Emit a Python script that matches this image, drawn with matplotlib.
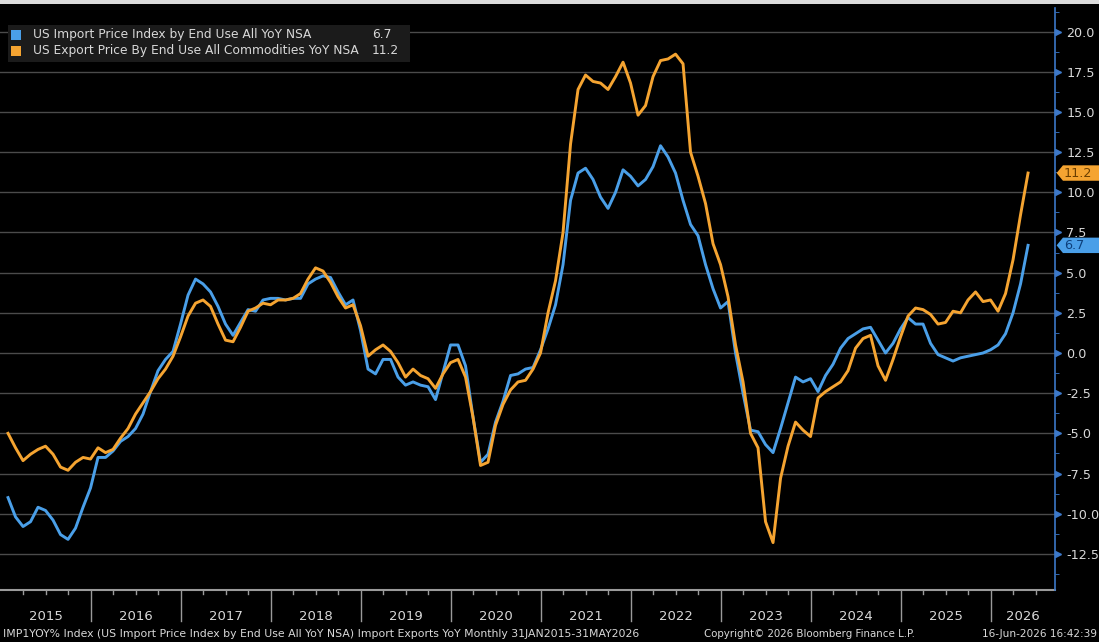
import matplotlib
matplotlib.use('Agg')
import matplotlib.pyplot as plt
import matplotlib.transforms as mtransforms
from matplotlib.patches import Polygon, Rectangle
import numpy as np

# monthly YoY values, Jan 2015 .. May 2026 (one row per year)
import_yoy = [
    -9.0, -10.2, -10.8, -10.5, -9.6, -9.8, -10.4, -11.3, -11.6, -10.9, -9.6, -8.4,   # 2015
    -6.5, -6.5, -6.1, -5.5, -5.2, -4.7, -3.8, -2.4, -1.1, -0.4, 0.1, 1.8,            # 2016
    3.6, 4.6, 4.3, 3.8, 2.9, 1.8, 1.1, 1.9, 2.7, 2.6, 3.3, 3.4,                      # 2017
    3.4, 3.3, 3.4, 3.4, 4.3, 4.6, 4.8, 4.7, 3.8, 3.0, 3.3, 1.4,                      # 2018
    -1.0, -1.3, -0.4, -0.4, -1.5, -2.0, -1.8, -2.0, -2.1, -2.9, -1.2, 0.5,           # 2019
    0.5, -0.8, -4.0, -6.8, -6.3, -4.3, -3.0, -1.4, -1.3, -1.0, -0.9, 0.2,            # 2020
    1.5, 3.0, 5.5, 9.5, 11.2, 11.5, 10.8, 9.7, 9.0, 10.0, 11.4, 11.0,                # 2021
    10.4, 10.8, 11.6, 12.9, 12.2, 11.2, 9.5, 8.0, 7.3, 5.5, 4.0, 2.8,                # 2022
    3.2, 0.0, -2.5, -4.8, -4.9, -5.7, -6.2, -4.7, -3.1, -1.5, -1.8, -1.6,            # 2023
    -2.4, -1.4, -0.7, 0.3, 0.9, 1.2, 1.5, 1.6, 0.8, 0.0, 0.6, 1.5,                   # 2024
    2.2, 1.8, 1.8, 0.6, -0.1, -0.3, -0.5, -0.3, -0.2, -0.1, 0.0, 0.2,                # 2025
    0.5, 1.2, 2.5, 4.3, 6.7,                                                         # 2026
]
export_yoy = [
    -5.0, -5.9, -6.7, -6.3, -6.0, -5.8, -6.3, -7.1, -7.3, -6.8, -6.5, -6.6,          # 2015
    -5.9, -6.2, -6.0, -5.3, -4.7, -3.8, -3.1, -2.4, -1.6, -1.0, -0.2, 1.0,           # 2016
    2.3, 3.1, 3.3, 2.9, 1.8, 0.8, 0.7, 1.6, 2.6, 2.8, 3.1, 3.0,                      # 2017
    3.3, 3.3, 3.4, 3.7, 4.6, 5.3, 5.1, 4.4, 3.5, 2.8, 3.0, 1.7,                      # 2018
    -0.2, 0.2, 0.5, 0.1, -0.6, -1.5, -1.0, -1.4, -1.6, -2.2, -1.3, -0.6,             # 2019
    -0.4, -1.5, -4.0, -7.0, -6.8, -4.5, -3.2, -2.3, -1.8, -1.7, -1.0, 0.0,           # 2020
    2.5, 4.5, 7.5, 13.0, 16.4, 17.3, 16.9, 16.8, 16.4, 17.2, 18.1, 16.8,             # 2021
    14.8, 15.4, 17.2, 18.2, 18.3, 18.6, 18.0, 12.5, 11.0, 9.3, 6.8, 5.5,             # 2022
    3.5, 0.5, -1.8, -5.0, -5.9, -10.5, -11.8, -7.8, -5.8, -4.3, -4.8, -5.2,          # 2023
    -2.8, -2.4, -2.1, -1.8, -1.1, 0.3, 0.9, 1.1, -0.8, -1.7, -0.4, 1.0,              # 2024
    2.3, 2.8, 2.7, 2.4, 1.8, 1.9, 2.6, 2.5, 3.3, 3.8, 3.2, 3.3,                      # 2025
    2.6, 3.7, 5.8, 8.6, 11.2,                                                        # 2026
]
years = list(range(2015, 2027))
import_label = 'US Import Price Index by End Use All YoY NSA'
export_label = 'US Export Price By End Use All Commodities YoY NSA'

BLUE = '#4a9fe8'
ORANGE = '#f5a431'
GRID = '#4b4b4b'
TXT = '#d8d8d8'
AXBLUE = '#3c78c8'

fig = plt.figure(figsize=(10.99, 6.42), dpi=100, facecolor='black')
ax = fig.add_axes([0.0, 0.081, 0.96, 0.9065])
ax.set_facecolor('black')

months = np.arange(len(import_yoy))
ax.plot(months, import_yoy, color=BLUE, lw=2.1, zorder=3)
ax.plot(months, export_yoy, color=ORANGE, lw=2.1, zorder=3)

ax.set_xlim(-1.07, 139.6)
ax.set_ylim(-14.75, 21.47)

yt = np.arange(-12.5, 20.01, 2.5)
for v in yt:
    ax.axhline(v, color=GRID, lw=1.0, zorder=1)

# right axis styling
for s in ['top', 'left', 'bottom']:
    ax.spines[s].set_visible(False)
ax.spines['right'].set_color(AXBLUE)
ax.spines['right'].set_linewidth(1.2)
ax.yaxis.tick_right()
ax.set_yticks(yt)
ax.set_yticklabels(['%.1f' % v for v in yt], color=TXT, fontsize=9.2)
ax.set_yticks(np.arange(-13.75, 21.3, 2.5), minor=True)
ax.tick_params(axis='y', which='major', length=0, pad=8)
ax.tick_params(axis='y', which='minor', length=3, color=AXBLUE, direction='out')
ax.set_xticks([])

# triangular major tick marks on the right axis
ytrans = mtransforms.blended_transform_factory(ax.transAxes, ax.transData)
ax.plot(np.full(len(yt), 1.003), yt, marker='>', ls='none', ms=5, color=AXBLUE,
        transform=ytrans, clip_on=False, zorder=5)

# value tags at right
def value_tag(val, color, tcolor):
    x0 = 1.0015
    x1 = 1.0075
    x2 = 1.05
    h = 0.48
    poly = Polygon([[x0, val], [x1, val + h], [x2, val + h], [x2, val - h], [x1, val - h]],
                   closed=True, facecolor=color, edgecolor='none',
                   transform=ytrans, clip_on=False, zorder=6)
    ax.add_patch(poly)
    ax.text(1.0085, val, '%.1f' % val, color=tcolor, fontsize=9.2, va='center', ha='left',
            transform=ytrans, zorder=7)

value_tag(export_yoy[-1], ORANGE, '#6b3f00')
value_tag(import_yoy[-1], BLUE, '#0d3f7a')

# x axis: baseline, year separators, quarter ticks, labels
xtrans = mtransforms.blended_transform_factory(ax.transData, fig.transFigure)
base_y = 0.081
ax.plot([-1.07, 139.6], [base_y, base_y], color='#9a9a9a', lw=1.5,
        transform=xtrans, clip_on=False)
for i, yr in enumerate(years):
    start = 12 * i - 1
    if i > 0:
        ax.plot([start, start], [base_y, base_y - 0.048], color='#9a9a9a', lw=1.0,
                transform=xtrans, clip_on=False)
    for q in (3, 6, 9):
        if start + q < 139.6:
            ax.plot([start + q, start + q], [base_y, base_y - 0.006], color='#9a9a9a', lw=1.0,
                    transform=xtrans, clip_on=False)
    end = min(start + 12, 139.6)
    ax.text((max(start, -1.07) + end) / 2, 0.039, str(yr), color=TXT, fontsize=9.5,
            ha='center', va='center', transform=xtrans)

# footer
fig.text(0.003, 0.012, 'IMP1YOY% Index (US Import Price Index by End Use All YoY NSA) Import Exports YoY Monthly 31JAN2015-31MAY2026',
         color=TXT, fontsize=7.85, ha='left', va='center')
fig.text(0.641, 0.012, 'Copyright\u00a9 2026 Bloomberg Finance L.P.', color=TXT, fontsize=7.4,
         ha='left', va='center')
fig.text(0.998, 0.012, '16-Jun-2026 16:42:39', color=TXT, fontsize=7.6, ha='right', va='center')

# legend box
fig.patches.append(Rectangle((0.007, 0.903), 0.366, 0.058, transform=fig.transFigure,
                             facecolor='#1b1b1b', edgecolor='none', zorder=4))
fig.patches.append(Rectangle((0.010, 0.938), 0.009, 0.016, transform=fig.transFigure,
                             facecolor=BLUE, edgecolor='none', zorder=5))
fig.patches.append(Rectangle((0.010, 0.913), 0.009, 0.016, transform=fig.transFigure,
                             facecolor=ORANGE, edgecolor='none', zorder=5))
fig.text(0.030, 0.946, import_label, color=TXT, fontsize=8.8, ha='left', va='center', zorder=6)
fig.text(0.030, 0.921, export_label, color=TXT, fontsize=8.8, ha='left', va='center', zorder=6)
fig.text(0.356, 0.946, '%.1f' % import_yoy[-1], color=TXT, fontsize=8.8, ha='right', va='center', zorder=6)
fig.text(0.3625, 0.921, '%.1f' % export_yoy[-1], color=TXT, fontsize=8.8, ha='right', va='center', zorder=6)

# light strip at very top (screen capture edge)
fig.patches.append(Rectangle((0, 0.993), 1, 0.007, transform=fig.transFigure,
                             facecolor='#dcdcdc', edgecolor='none'))

fig.savefig('out.png', dpi=100, facecolor='black')
